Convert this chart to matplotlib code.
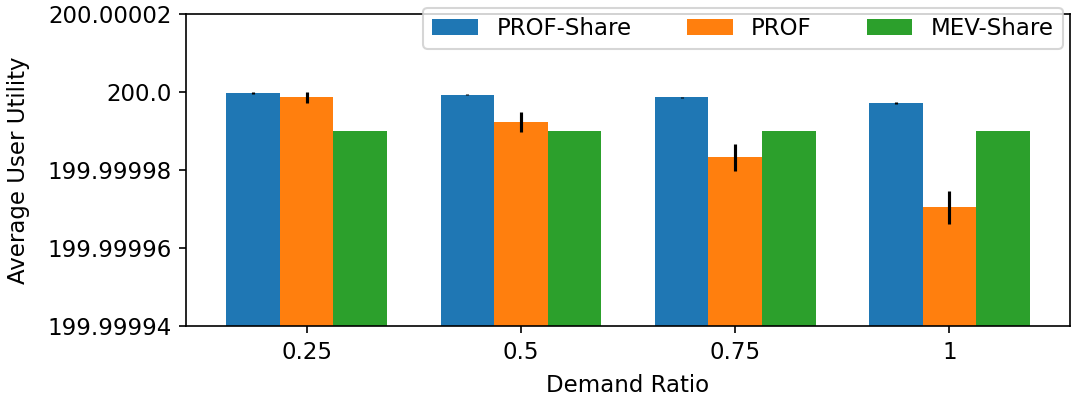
import numpy as np
import matplotlib
matplotlib.use('Agg')
from matplotlib import pyplot as plt
from matplotlib.ticker import FuncFormatter

ratios = ['0.25', '0.5', '0.75', '1']
labels = ['PROF-Share', 'PROF', 'MEV-Share']

prof_share = [199.9999997, 199.9999993, 199.9999986, 199.9999972]
prof_share_err = [0.0000002, 0.0000002, 0.0000002, 0.0000002]
prof = [199.9999986, 199.9999923, 199.9999832, 199.9999704]
prof_err = [0.0000015, 0.0000026, 0.0000035, 0.0000042]
mev_share = [199.99999, 199.99999, 199.99999, 199.99999]
mev_share_err = [0.0, 0.0, 0.0, 0.0]

x = np.arange(len(ratios))
w = 0.25

fig = plt.figure(figsize=(1076/150, 398/150), dpi=150)
ax = fig.add_axes([0.1729, 0.181, 0.8215, 0.784])

ax.bar(x - w, prof_share, w, yerr=prof_share_err, label=labels[0])
ax.bar(x, prof, w, yerr=prof_err, label=labels[1])
ax.bar(x + w, mev_share, w, yerr=mev_share_err, label=labels[2])

ax.set_ylim(199.99994, 200.00002)
ax.set_yticks([199.99994, 199.99996, 199.99998, 200.0, 200.00002])
ax.yaxis.set_major_formatter(FuncFormatter(lambda v, p: str(round(v, 5))))
ax.set_xticks(x)
ax.set_xticklabels(ratios)

ax.set_xlabel('Demand Ratio', fontsize=11, labelpad=5)
ax.set_ylabel('Average User Utility', fontsize=11, labelpad=8)
ax.tick_params(labelsize=11)

ax.legend(ncol=3, loc='upper right', bbox_to_anchor=(0.992, 1.02),
          borderaxespad=0, columnspacing=2.4, fontsize=11)

fig.savefig('out.png', dpi=150)
